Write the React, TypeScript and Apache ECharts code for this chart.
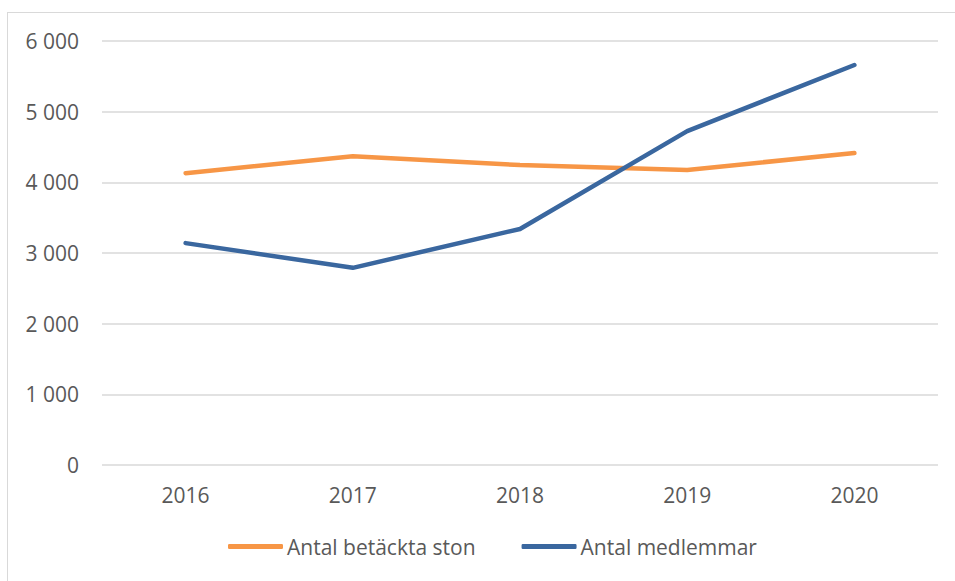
import React, { useEffect, useRef } from "react";
import * as echarts from "echarts";

const years = ["2016", "2017", "2018", "2019", "2020"];
const betacktaSton = [4130, 4370, 4245, 4175, 4415];
const medlemmar = [3140, 2790, 3340, 4725, 5660];
const seriesNames = ["Antal betäckta ston", "Antal medlemmar"];
const seriesColors = ["#F79646", "#3A679F"];

export default function App() {
  const ref = useRef<HTMLDivElement>(null);
  useEffect(() => {
    const chart = echarts.init(ref.current!, null, { renderer: "svg" });
    const font = "'Open Sans', sans-serif";
    chart.setOption({
      animation: false,
      grid: { left: 102, right: 17, top: 41, bottom: 116 },
      xAxis: {
        type: "category",
        data: years,
        boundaryGap: true,
        axisLine: { show: false },
        axisTick: { show: false },
        axisLabel: { color: "#595959", fontSize: 21, fontFamily: font, margin: 19 },
      },
      yAxis: {
        type: "value",
        min: 0,
        max: 6000,
        interval: 1000,
        axisLine: { show: false },
        axisTick: { show: false },
        splitLine: { lineStyle: { color: "#d9d9d9", width: 1.5 } },
        axisLabel: {
          color: "#595959",
          fontSize: 21,
          fontFamily: font,
          margin: 23,
          formatter: (v: number) => (v >= 1000 ? Math.floor(v / 1000) + " " + String(v % 1000).padStart(3, "0") : String(v)),
        },
      },
      legend: {
        bottom: 19,
        left: 223,
        itemWidth: 55,
        itemHeight: 5,
        itemGap: 46,
        icon: "roundRect",
        textStyle: { color: "#595959", fontSize: 21, fontFamily: font, padding: [0, 0, 0, -1] },
        data: seriesNames,
      },
      series: [
        {
          name: seriesNames[0],
          type: "line",
          data: betacktaSton,
          symbol: "none",
          color: seriesColors[0],
          lineStyle: { width: 4.5, cap: "round", join: "round" },
        },
        {
          name: seriesNames[1],
          type: "line",
          data: medlemmar,
          symbol: "none",
          color: seriesColors[1],
          lineStyle: { width: 4.5, cap: "round", join: "round" },
        },
      ],
    });
    return () => chart.dispose();
  }, []);
  return (
    <div style={{ position: "absolute", left: 0, top: 0, width: 955, height: 581, background: "#fff" }}>
      <div
        style={{
          position: "absolute",
          left: 7,
          top: 12,
          width: 948,
          height: 569,
          borderTop: "1.5px solid #d9d9d9",
          borderLeft: "1.5px solid #d9d9d9",
          boxSizing: "border-box",
        }}
      />
      <div ref={ref} style={{ position: "absolute", left: 0, top: 0, width: 955, height: 581 }} />
    </div>
  );
}
